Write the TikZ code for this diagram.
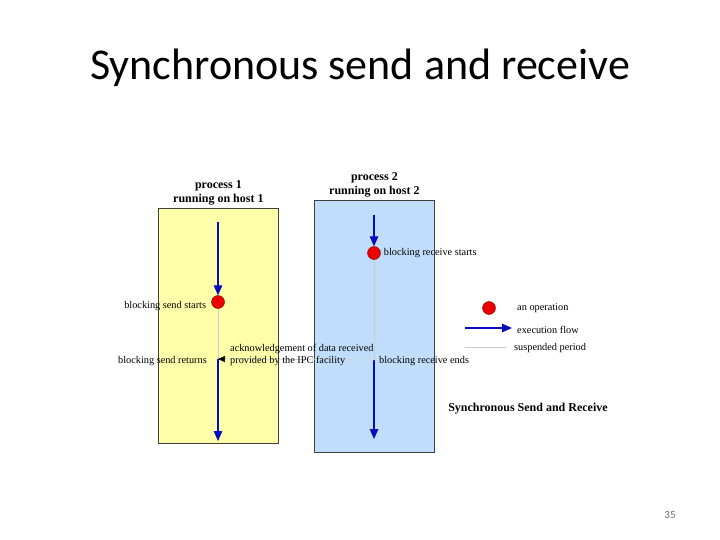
\documentclass[tikz,border=0pt]{standalone}
\usepackage{fontspec}
\setmainfont{Liberation Serif}
\newfontfamily\slidefont{Carlito}
\usetikzlibrary{positioning}
\usetikzlibrary{arrows.meta}
\definecolor{hostone}{RGB}{255,255,170}
\definecolor{hosttwo}{RGB}{192,222,252}
\definecolor{flowblue}{RGB}{10,10,190}
\definecolor{opred}{RGB}{235,0,0}
\definecolor{pagegray}{RGB}{110,110,110}

\tikzset{
  column/.style={draw=black!75, fill=#1, line width=0.8pt, inner sep=0pt},
  header/.style={font=\fontsize{12}{13.5}\selectfont\bfseries, align=center, inner sep=0pt},
  lbl/.style={font=\fontsize{10.3}{12}\selectfont, inner sep=1pt},
  op/.style={circle, fill=opred, draw=red!50!black, minimum size=13pt, inner sep=0pt},
  flow/.style={draw=flowblue, line width=1.2pt, -{Triangle[length=10pt,width=8.5pt]}},
  suspend/.style={draw=black!20, line width=0.6pt}
}

\begin{document}
\begin{tikzpicture}[x=1pt, y=-1pt, >=latex]
    \useasboundingbox (0,0) rectangle (720,540);
    \node[font=\slidefont\fontsize{44}{52}\selectfont] (title) at (360,68) {Synchronous send and receive};
    % host columns
    \node[column=hostone, minimum width=120pt, minimum height=235pt, anchor=north west] (col1) at (158,208) {};
    \node[column=hosttwo, minimum width=120pt, minimum height=252pt, anchor=north west] (col2) at (314,200) {};
    \node[header, above=3pt of col1] (head1) {process 1\\running on host 1};
    \node[header, above=3pt of col2] (head2) {process 2\\running on host 2};
    % process 1
    \coordinate (p1top) at (218,222);
    \node[op] (send) at (218,302) {};
    \coordinate (p1ret) at (218,359);
    \coordinate (p1end) at (218,441);
    \draw[flow] (p1top) -- (send.north);
    \draw[suspend] (send.south) -- (p1ret);
    \draw[flow] (p1ret) -- (p1end);
    % process 2
    \coordinate (p2top) at (374,215);
    \node[op] (recv) at (374,253) {};
    \coordinate (p2ret) at (374,360);
    \coordinate (p2end) at (374,439);
    \draw[flow] (p2top) -- (recv.north);
    \draw[suspend] (recv.south) -- (p2ret);
    \draw[flow] (p2ret) -- (p2end);
    % acknowledgement
    \draw[suspend, -{Triangle[length=7pt,width=6pt,color=black]}] (p2ret) -- (p1ret);
    \node[lbl, left=4pt of send, yshift=-4pt] (sendstart) {blocking send starts};
    \node[lbl, left=10pt of p1ret, yshift=-2pt] (sendret) {blocking send returns};
    \node[lbl, align=left, anchor=south west] (ack) at (229,367) {acknowledgement of data received\\provided by the IPC facility};
    \node[lbl, right=2pt of recv] (recvstart) {blocking receive starts};
    \node[lbl, right=4pt of p2ret, yshift=-1pt] (recvend) {blocking receive ends};
    % legend
    \node[op] (legop) at (489,308) {};
    \node[lbl, anchor=west] (legoptext) at (516,308) {an operation};
    \coordinate (legflowa) at (465,328);
    \coordinate (legflowb) at (512,328);
    \draw[flow] (legflowa) -- (legflowb);
    \node[lbl, anchor=west] (legflowtext) at (516,330) {execution flow};
    \coordinate (legsusa) at (465,347);
    \coordinate (legsusb) at (506,347);
    \draw[suspend] (legsusa) -- (legsusb);
    \node[lbl, anchor=west] (legsustext) at (513,348) {suspended period};
    \node[font=\fontsize{12}{14}\selectfont\bfseries] (caption) at (528,409) {Synchronous Send and Receive};
    \node[font=\slidefont\fontsize{11}{13}\selectfont, text=pagegray] (pageno) at (670,515) {35};
\end{tikzpicture}
\end{document}
